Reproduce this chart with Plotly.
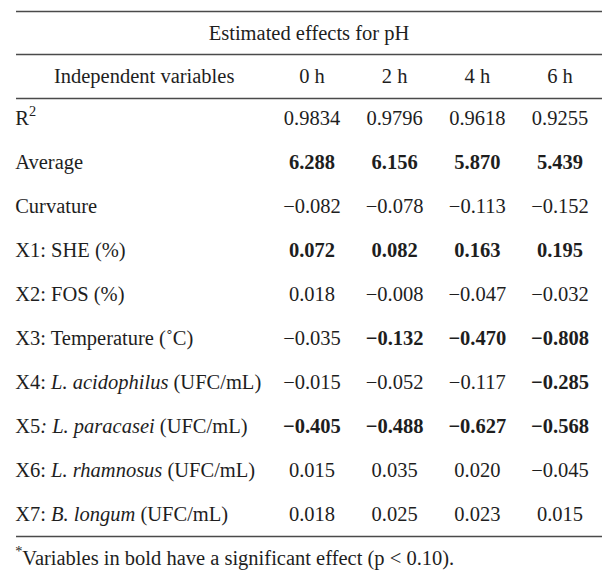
import plotly.graph_objects as go

# Table data
title = "Estimated effects for pH"
header_label = "Independent variables"
time_points = ["0 h", "2 h", "4 h", "6 h"]
variables = [
    "R<sup>2</sup>",
    "Average",
    "Curvature",
    "X1: SHE (%)",
    "X2: FOS (%)",
    "X3: Temperature (˚C)",
    "X4: <i>L. acidophilus</i> (UFC/mL)",
    "X5<i>: L. paracasei</i> (UFC/mL)",
    "X6: <i>L. rhamnosus</i> (UFC/mL)",
    "X7: <i>B. longum</i> (UFC/mL)",
]
values_0h = [0.9834, 6.288, -0.082, 0.072, 0.018, -0.035, -0.015, -0.405, 0.015, 0.018]
values_2h = [0.9796, 6.156, -0.078, 0.082, -0.008, -0.132, -0.052, -0.488, 0.035, 0.025]
values_4h = [0.9618, 5.870, -0.113, 0.163, -0.047, -0.470, -0.117, -0.627, 0.020, 0.023]
values_6h = [0.9255, 5.439, -0.152, 0.195, -0.032, -0.808, -0.285, -0.568, -0.045, 0.015]
# significant effects are printed in bold
bold_0h = [False, True, False, True, False, False, False, True, False, False]
bold_2h = [False, True, False, True, False, True, False, True, False, False]
bold_4h = [False, True, False, True, False, True, False, True, False, False]
bold_6h = [False, True, False, True, False, True, True, True, False, False]
decimals = [4, 3, 3, 3, 3, 3, 3, 3, 3, 3]
footnote = "<sup>*</sup>Variables in bold have a significant effect (p < 0.10)."

FONT = "Liberation Serif"
FONT_SIZE = 20.5
TEXT_COLOR = "#1e1e1e"
RULE_COLOR = "#4a4a4a"
LABEL_X = -2.59      # left edge of the first column
HEADER_LABEL_X = -1.03
RULE_X = (-2.58, 4.508)
TITLE_Y = -1.93
HEADER_Y = -0.955
FOOT_Y = 10.0


def fmt(v, d, bold):
    s = f"{v:.{d}f}".replace("-", "−")
    return f"<b>{s}</b>" if bold else s


fig = go.Figure()

rows = list(range(len(variables)))
font = dict(family=FONT, size=FONT_SIZE, color=TEXT_COLOR)

# first column: variable names
fig.add_trace(go.Scatter(
    x=[LABEL_X] * len(rows), y=rows, mode="text", text=variables,
    textposition="middle right", hoverinfo="skip", textfont=font,
))

columns = [(values_0h, bold_0h), (values_2h, bold_2h),
           (values_4h, bold_4h), (values_6h, bold_6h)]
for i, (vals, bolds) in enumerate(columns):
    fig.add_trace(go.Scatter(
        x=[i + 1] * len(rows), y=rows, mode="text",
        text=[fmt(v, d, b) for v, d, b in zip(vals, decimals, bolds)],
        textposition="middle center", hoverinfo="skip", textfont=font,
    ))

# header row
fig.add_trace(go.Scatter(
    x=[HEADER_LABEL_X] + [i + 1 for i in range(len(time_points))],
    y=[HEADER_Y] * (len(time_points) + 1), mode="text",
    text=[header_label] + time_points, textposition="middle center",
    hoverinfo="skip", textfont=font,
))

# title and footnote
fig.add_trace(go.Scatter(
    x=[(RULE_X[0] + RULE_X[1]) / 2], y=[TITLE_Y], mode="text", text=[title],
    textposition="middle center", hoverinfo="skip", textfont=font,
))
fig.add_trace(go.Scatter(
    x=[LABEL_X], y=[FOOT_Y], mode="text", text=[footnote],
    textposition="middle right", hoverinfo="skip", textfont=font,
))

# horizontal rules
for y in [-2.455, -1.477, -0.477, len(rows) - 0.523]:
    fig.add_shape(type="line", xref="x", yref="y", x0=RULE_X[0], x1=RULE_X[1],
                  y0=y, y1=y, line=dict(color=RULE_COLOR, width=1.7))

# the page adds an 8px body margin, so the ranges are shifted to compensate
fig.update_layout(
    width=614, height=578,
    margin=dict(l=0, r=0, t=0, b=0),
    paper_bgcolor="white", plot_bgcolor="white",
    showlegend=False,
    xaxis=dict(range=[-2.677, 4.750], visible=False, fixedrange=True),
    yaxis=dict(range=[10.602, -2.534], visible=False, fixedrange=True),
)

fig.write_html("out.html")
